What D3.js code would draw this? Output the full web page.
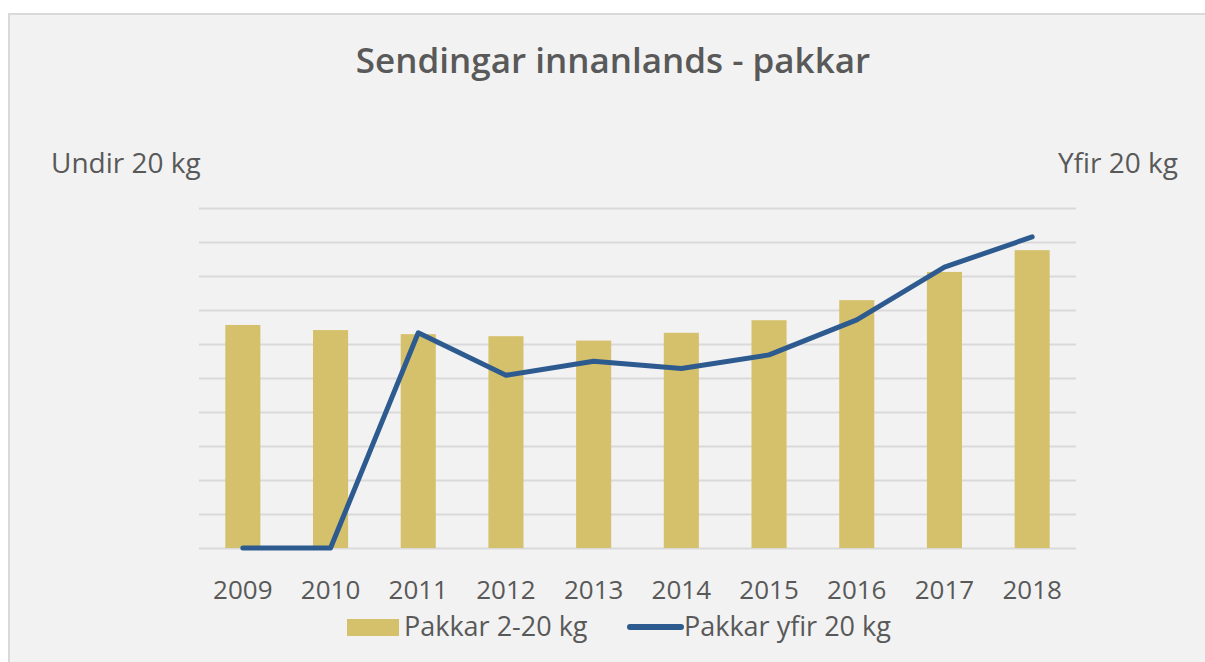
<!DOCTYPE html>
<html>
<head>
<meta charset="utf-8">
<script src="https://cdn.jsdelivr.net/npm/d3@7"></script>
<style>
  body { margin: 0; background: #fff; }
  text { font-family: "Open Sans", "Noto Sans", sans-serif; fill: #595959; }
</style>
</head>
<body>
<svg class="chart"></svg>
<script>
// values, in gridline units (axis labels are hidden)
var years = ['2009', '2010', '2011', '2012', '2013', '2014', '2015', '2016', '2017', '2018'];
var pakkarUndir = [6.56, 6.41, 6.29, 6.23, 6.10, 6.33, 6.70, 7.29, 8.12, 8.76];
var pakkarYfir = [0, 0, 6.33, 5.08, 5.49, 5.28, 5.68, 6.71, 8.26, 9.15];
var gridTicks = [0, 1, 2, 3, 4, 5, 6, 7, 8, 9, 10];

var W = 1205, H = 662;
var margin = {top: 208, right: 129, bottom: 114, left: 199},
	width = W - margin.left - margin.right,
	height = H - margin.top - margin.bottom;

var chart = d3.select('.chart')
	.attr('width', W)
	.attr('height', H);

// chart area panel
chart.append('rect')
	.attr('x', 9).attr('y', 14)
	.attr('width', W + 20).attr('height', H + 20)
	.attr('fill', '#f2f2f2')
	.attr('stroke', '#d9d9d9')
	.attr('stroke-width', 2);

var x = d3.scaleBand().domain(years).range([0, width]).paddingInner(0.6).paddingOuter(0.3),
	yLeft = d3.scaleLinear().domain([0, 10]).range([height, 0]),
	yRight = d3.scaleLinear().domain([0, 10]).range([height, 0]);

var g = chart.append('g')
	.attr('transform', 'translate(' + margin.left + ',' + margin.top + ')');

// gridlines
g.append('g')
	.call(d3.axisLeft(yLeft).tickValues(gridTicks).tickSize(-width).tickFormat(''))
	.call(function(a) {
		a.select('.domain').remove();
		a.selectAll('.tick line').attr('stroke', '#d9d9d9').attr('stroke-width', 2);
	});

// bars
g.selectAll('.bar')
	.data(years)
  .enter().append('rect')
	.attr('class', 'bar')
	.attr('x', function(d) { return x(d); })
	.attr('width', x.bandwidth())
	.attr('y', function(d, i) { return yLeft(pakkarUndir[i]); })
	.attr('height', function(d, i) { return height - yLeft(pakkarUndir[i]); })
	.attr('fill', '#d5c16b');

// line
var line = d3.line()
	.x(function(d, i) { return x(years[i]) + x.bandwidth() / 2; })
	.y(function(d) { return yRight(d); });

g.append('path')
	.datum(pakkarYfir)
	.attr('d', line)
	.attr('fill', 'none')
	.attr('stroke', '#2e5b8f')
	.attr('stroke-width', 5)
	.attr('stroke-linecap', 'round')
	.attr('stroke-linejoin', 'round');

// x axis
g.append('g')
	.attr('transform', 'translate(0,' + height + ')')
	.call(d3.axisBottom(x).tickSize(0).tickPadding(0))
	.call(function(a) {
		a.select('.domain').remove();
		a.selectAll('.tick text')
			.attr('y', 51).attr('dy', null)
			.style('font-size', '26px');
	});

// title and axis titles
chart.append('text')
	.attr('x', 613).attr('y', 73)
	.attr('text-anchor', 'middle')
	.style('font-size', '35px').style('font-weight', 600)
	.text('Sendingar innanlands - pakkar');

chart.append('text')
	.attr('x', 51).attr('y', 173)
	.style('font-size', '28px')
	.text('Undir 20 kg');

chart.append('text')
	.attr('x', 1178).attr('y', 173)
	.attr('text-anchor', 'end')
	.style('font-size', '28px')
	.text('Yfir 20 kg');

// legend
var legend = chart.append('g').attr('transform', 'translate(347,636)');
legend.append('rect')
	.attr('x', 0).attr('y', -17).attr('width', 52).attr('height', 17)
	.attr('fill', '#d5c16b');
legend.append('text')
	.attr('x', 57).attr('y', 0)
	.style('font-size', '27px')
	.text('Pakkar 2-20 kg');
legend.append('line')
	.attr('x1', 283).attr('x2', 334).attr('y1', -9).attr('y2', -9)
	.attr('stroke', '#2e5b8f').attr('stroke-width', 6).attr('stroke-linecap', 'round');
legend.append('text')
	.attr('x', 337).attr('y', 0)
	.style('font-size', '27px')
	.text('Pakkar yfir 20 kg');
</script>
</body>
</html>
